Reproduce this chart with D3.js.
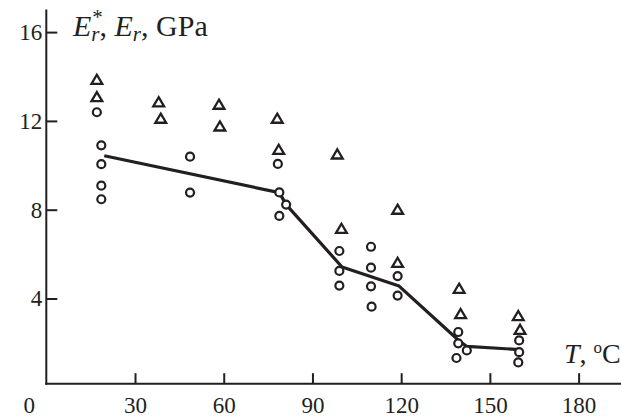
<!DOCTYPE html>
<html><head><meta charset="utf-8">
<script src="https://cdn.jsdelivr.net/npm/d3@7"></script>
<style>body{margin:0;background:#fff}svg{display:block}</style>
</head><body>
<svg id="chart" width="621" height="419"></svg>
<script>
// ---- data ----
const xTicks = [30, 60, 90, 120, 150, 180];
const yTicks = [4, 8, 12, 16];
const triT = [17.1, 17.1, 38.0, 38.7, 58.4, 58.7, 78.1, 78.6, 98.4, 99.8, 118.8, 118.8, 139.6, 140.1, 159.6, 160.2];
const triE = [13.87, 13.09, 12.86, 12.12, 12.75, 11.77, 12.12, 10.72, 10.51, 7.16, 8.02, 5.63, 4.46, 3.32, 3.23, 2.61];
const circT = [17.1, 18.6, 18.6, 18.6, 18.6, 48.6, 48.6, 78.3, 78.8, 78.8, 81.1, 99.1, 99.1, 99.1, 109.8, 109.8, 109.8, 110.0, 118.8, 118.8, 139.3, 139.3, 138.7, 142.2, 159.9, 159.9, 159.6];
const circE = [12.39, 10.90, 10.05, 9.08, 8.47, 10.39, 8.77, 10.06, 8.78, 7.72, 8.23, 6.14, 5.24, 4.58, 6.33, 5.39, 4.55, 3.63, 5.01, 4.13, 2.49, 1.98, 1.32, 1.66, 2.11, 1.58, 1.12];
const lineT = [19.6, 78.8, 81.1, 100.0, 119.3, 139.3, 142.2, 159.9];
const lineE = [10.43, 8.77, 8.23, 5.42, 4.56, 2.13, 1.84, 1.70];

// ---- layout ----
const INK = "#231f20";
const FONT = "'Liberation Serif', 'Times New Roman', serif";
const TICK_FS = 23;
const svg = d3.select("#chart");
const x = d3.scaleLinear().domain([0, 180]).range([46.3, 578.6]);
const y = d3.scaleLinear().domain([0, 16]).range([387.3, 32.1]);
const axisY = 383.7;

// x axis
const gx = svg.append("g").attr("transform", `translate(0,${axisY})`)
  .call(d3.axisBottom(x).tickValues(xTicks).tickSize(-10.5).tickPadding(13).tickFormat(d3.format("d")));
gx.select(".domain").remove();
gx.selectAll(".tick line").attr("stroke", INK).attr("stroke-width", 2);
gx.selectAll(".tick text").attr("font-family", FONT).attr("font-size", TICK_FS).attr("fill", INK);
svg.append("line").attr("x1", x(0) - 1).attr("x2", 621).attr("y1", axisY).attr("y2", axisY)
  .attr("stroke", INK).attr("stroke-width", 2);

// y axis
const gy = svg.append("g").attr("transform", `translate(${x(0)},0)`)
  .call(d3.axisLeft(y).tickValues(yTicks).tickSize(-11).tickPadding(4).tickFormat(d3.format("d")));
gy.select(".domain").remove();
gy.selectAll(".tick line").attr("stroke", INK).attr("stroke-width", 2);
gy.selectAll(".tick text").attr("font-family", FONT).attr("font-size", TICK_FS).attr("fill", INK);
svg.append("line").attr("x1", x(0)).attr("x2", x(0)).attr("y1", 9.5).attr("y2", axisY + 1)
  .attr("stroke", INK).attr("stroke-width", 2);

// origin label
svg.append("text").attr("x", x(0) - 17).attr("y", 413.3).attr("text-anchor", "middle")
  .attr("font-family", FONT).attr("font-size", TICK_FS).attr("fill", INK).text("0");

// mean line
const lineData = lineT.map((t, i) => [t, lineE[i]]);
svg.append("path").datum(lineData)
  .attr("d", d3.line().x(d => x(d[0])).y(d => y(d[1])))
  .attr("fill", "none").attr("stroke", INK).attr("stroke-width", 3.2).attr("stroke-linejoin", "round");

// triangles
const triData = triT.map((t, i) => [t, triE[i]]);
svg.append("g").selectAll("path").data(triData).join("path")
  .attr("transform", d => `translate(${x(d[0])},${y(d[1])})`)
  .attr("d", "M0,-4.6L5.4,4.5L-5.4,4.5Z")
  .attr("fill", "#fff").attr("stroke", INK).attr("stroke-width", 2.3).attr("stroke-linejoin", "miter");

// circles
const circData = circT.map((t, i) => [t, circE[i]]);
svg.append("g").selectAll("circle").data(circData).join("circle")
  .attr("cx", d => x(d[0])).attr("cy", d => y(d[1])).attr("r", 4.0)
  .attr("fill", "#fff").attr("stroke", INK).attr("stroke-width", 2.2);

// y label: E*_r, E_r, GPa (single text element)
const LS = 30, SS = 21;
const probe = svg.append("text").attr("font-family", FONT).attr("font-size", SS).text("*");
const starW = probe.node().getComputedTextLength();
probe.remove();
const yl = svg.append("text").attr("x", 73).attr("y", 36)
  .attr("font-family", FONT).attr("font-size", LS).attr("fill", INK);
yl.append("tspan").attr("font-style", "italic").text("E");
yl.append("tspan").attr("font-size", SS).attr("dx", 1).attr("dy", -12).text("*");
yl.append("tspan").attr("font-style", "italic").attr("font-size", SS).attr("dx", -starW - 1).attr("dy", 17).text("r");
yl.append("tspan").attr("dy", -5).text(", ");
yl.append("tspan").attr("font-style", "italic").text("E");
yl.append("tspan").attr("font-style", "italic").attr("font-size", SS).attr("dy", 5).text("r");
yl.append("tspan").attr("dy", -5).text(", GPa");

// x label: T, °C
const xl = svg.append("text").attr("x", 564).attr("y", 363)
  .attr("font-family", FONT).attr("font-size", 28).attr("fill", INK);
xl.append("tspan").attr("font-style", "italic").text("T");
xl.append("tspan").text(", ");
xl.append("tspan").attr("font-size", 17).attr("dy", -10).text("o");
xl.append("tspan").attr("dy", 10).text("C");
</script>
</body></html>
